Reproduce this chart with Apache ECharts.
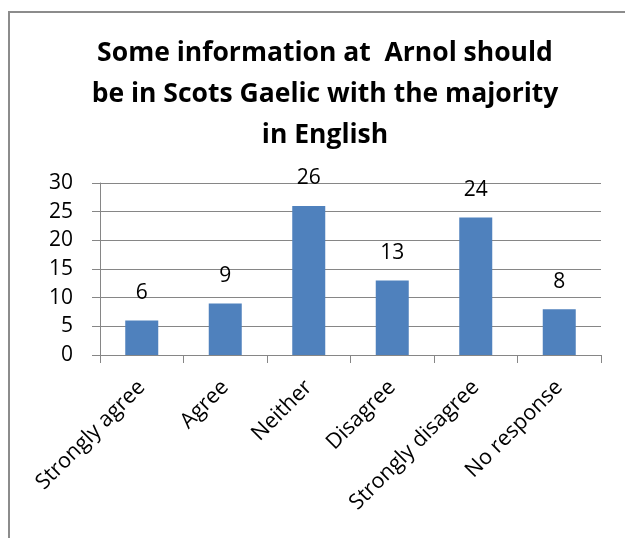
<!DOCTYPE html>
<html>
<head>
<meta charset="utf-8">
<script src="https://cdn.jsdelivr.net/npm/echarts@6/dist/echarts.min.js"></script>
<style>
  html, body { margin: 0; padding: 0; background: #fff; }
  #chart { width: 625px; height: 538px; }
</style>
</head>
<body>
<div id="chart"></div>
<script>
// Survey responses
const categories = ['Strongly agree', 'Agree', 'Neither', 'Disagree', 'Strongly disagree', 'No response'];
const responses = [6, 9, 26, 13, 24, 8];
const yTicks = { min: 0, max: 30, interval: 5 };
const titleText = 'Some information at  Arnol should\nbe in Scots Gaelic with the majority\nin English';

const FONT = 'Open Sans';
const AXIS_GREY = '#868686';

const chart = echarts.init(document.getElementById('chart'), null, { renderer: 'canvas' });

chart.setOption({
  backgroundColor: '#ffffff',
  animation: false,
  graphic: [{
    type: 'rect',
    shape: { x: 9, y: 12, width: 700, height: 600 },
    style: { fill: 'none', stroke: '#8c8c8c', lineWidth: 2 },
    silent: true
  }],
  title: {
    text: titleText,
    left: 320,
    top: 28,
    textAlign: 'center',
    textStyle: {
      fontFamily: FONT,
      fontWeight: 'bold',
      fontSize: 26.5,
      lineHeight: 41,
      color: '#000'
    }
  },
  grid: { left: 100, right: 24, top: 183, bottom: 183, containLabel: false },
  xAxis: {
    type: 'category',
    data: categories,
    axisLine: { lineStyle: { color: AXIS_GREY, width: 1 } },
    axisTick: { show: true, length: 8, alignWithLabel: false, lineStyle: { color: AXIS_GREY } },
    axisLabel: {
      rotate: 45,
      interval: 0,
      margin: 29,
      color: '#000',
      fontFamily: FONT,
      fontSize: 21.5
    }
  },
  yAxis: {
    type: 'value',
    min: yTicks.min,
    max: yTicks.max,
    interval: yTicks.interval,
    axisLine: { show: true, lineStyle: { color: AXIS_GREY, width: 1 } },
    axisTick: { show: true, length: 8, lineStyle: { color: AXIS_GREY } },
    splitLine: { show: true, lineStyle: { color: AXIS_GREY, width: 1 } },
    axisLabel: {
      margin: 27,
      color: '#000',
      fontFamily: FONT,
      fontSize: 21
    }
  },
  series: [{
    type: 'bar',
    data: responses,
    barWidth: 33,
    itemStyle: { color: '#4f81bd' },
    label: {
      show: true,
      position: 'top',
      distance: 17,
      color: '#000',
      fontFamily: FONT,
      fontSize: 21
    }
  }]
});
</script>
</body>
</html>
